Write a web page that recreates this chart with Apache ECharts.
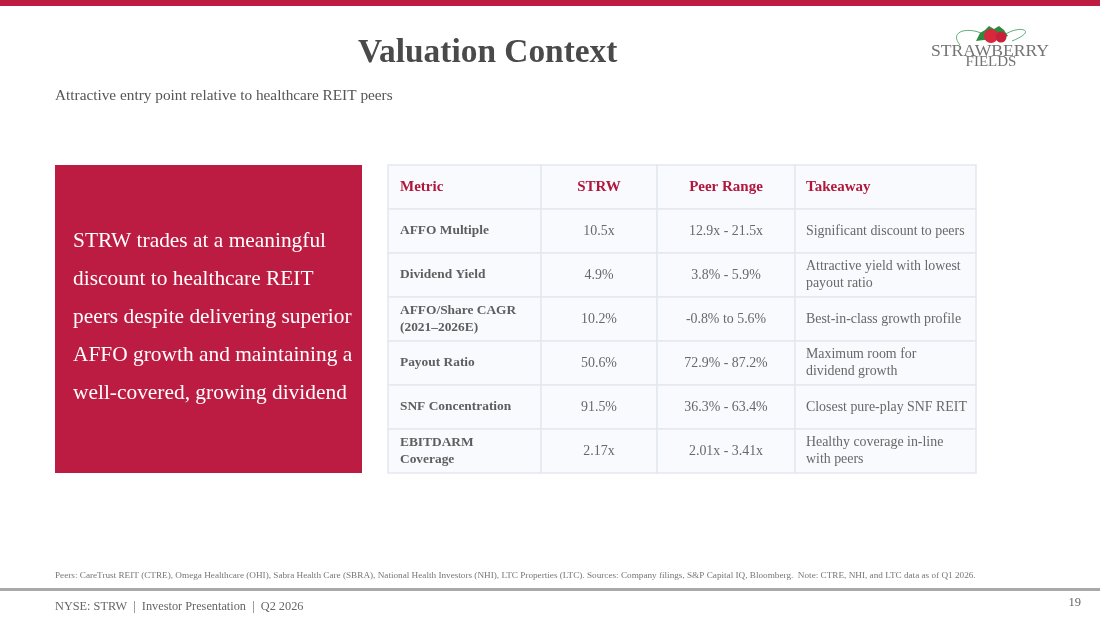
<!DOCTYPE html>
<html>
<head>
<meta charset="utf-8">
<script src="https://cdn.jsdelivr.net/npm/echarts@6/dist/echarts.min.js"></script>
<style>
html,body{margin:0;padding:0;background:#fff;}
#main{width:1100px;height:619px;}
</style>
</head>
<body>
<div id="main"></div>
<script>
// ---- Data ----
const columns = ['Metric', 'STRW', 'Peer Range', 'Takeaway'];
const metrics = ['AFFO Multiple', 'Dividend Yield', 'AFFO/Share CAGR\n(2021\u20132026E)', 'Payout Ratio', 'SNF Concentration', 'EBITDARM\nCoverage'];
const strwValues = ['10.5x', '4.9%', '10.2%', '50.6%', '91.5%', '2.17x'];
const peerRanges = ['12.9x - 21.5x', '3.8% - 5.9%', '-0.8% to 5.6%', '72.9% - 87.2%', '36.3% - 63.4%', '2.01x - 3.41x'];
const takeaways = ['Significant discount to peers', 'Attractive yield with lowest\npayout ratio', 'Best-in-class growth profile', 'Maximum room for\ndividend growth', 'Closest pure-play SNF REIT', 'Healthy coverage in-line\nwith peers'];
const titleText = 'Valuation Context';
const subtitleText = 'Attractive entry point relative to healthcare REIT peers';
const calloutText = 'STRW trades at a meaningful\ndiscount to healthcare REIT\npeers despite delivering superior\nAFFO growth and maintaining a\nwell-covered, growing dividend';
const footnoteText = 'Peers: CareTrust REIT (CTRE), Omega Healthcare (OHI), Sabra Health Care (SBRA), National Health Investors (NHI), LTC Properties (LTC). Sources: Company filings, S&P Capital IQ, Bloomberg.  Note: CTRE, NHI, and LTC data as of Q1 2026.';
const footerText = 'NYSE: STRW  |  Investor Presentation  |  Q2 2026';
const pageNumber = '19';
const logoLines = ['STRAWBERRY', 'FIELDS'];

// ---- Build table cells ----
const rowLabels = ['header'].concat(metrics.map((m, i) => 'r' + i));
const bodyCols = [metrics, strwValues, peerRanges, takeaways];
const cellTexts = [];
const cellData = [];
for (let r = 0; r <= metrics.length; r++) {
  for (let c = 0; c < columns.length; c++) {
    cellTexts.push(r === 0 ? columns[c] : bodyCols[c][r - 1]);
    cellData.push([c, r]);
  }
}

// layout (column edges in table units)
const colEdges = [0, 153, 269, 407, 588];
const SERIF = '"Liberation Serif", "Times New Roman", serif';
const CRIMSON = '#BC1C42';

const chart = echarts.init(document.getElementById('main'), null, {renderer: 'canvas'});

function renderCell(params, api) {
  const c = api.value(0), r = api.value(1);
  const p0 = api.coord([colEdges[c], r]);
  const p1 = api.coord([colEdges[c + 1], r]);
  const h = api.size([0, 1])[1];
  const x = p0[0], w = p1[0] - p0[0], y = p0[1] - h / 2;
  const txt = cellTexts[params.dataIndex];
  const isHeader = r === 0;
  const center = (c === 1 || c === 2);
  let font, color;
  if (isHeader) { font = 'bold 15px ' + SERIF; color = '#B0173D'; }
  else if (c === 0) { font = 'bold 13.4px ' + SERIF; color = '#5E5E5E'; }
  else { font = '13.9px ' + SERIF; color = '#686868'; }
  return {
    type: 'group',
    children: [
      {type: 'rect', shape: {x: x, y: y, width: w, height: h},
       style: {fill: '#F8FAFD', stroke: '#E3E8EF', lineWidth: 1.5}},
      {type: 'text',
       style: {text: txt, x: center ? x + w / 2 : x + (c === 0 ? 12 : 11), y: y + h / 2,
               align: center ? 'center' : 'left', verticalAlign: 'middle',
               font: font, fill: color, lineHeight: 16.5}}
    ]
  };
}

const option = {
  backgroundColor: '#ffffff',
  animation: false,
  title: [
    {text: titleText, left: 358, top: 37, padding: 0,
     textStyle: {fontFamily: SERIF, fontSize: 33.4, fontWeight: 'bold', color: '#4A4A4A'}},
    {text: subtitleText, left: 55, top: 88, padding: 0,
     textStyle: {fontFamily: SERIF, fontSize: 15.3, fontWeight: 'normal', color: '#555555'}},
    {text: footnoteText, left: 55, top: 571, padding: 0,
     textStyle: {fontFamily: SERIF, fontSize: 9.2, fontWeight: 'normal', color: '#777777'}},
    {text: footerText, left: 55, top: 601, padding: 0,
     textStyle: {fontFamily: SERIF, fontSize: 12.3, fontWeight: 'normal', color: '#666666'}},
    {text: pageNumber, right: 19, top: 596, padding: 0,
     textStyle: {fontFamily: SERIF, fontSize: 12.5, fontWeight: 'normal', color: '#666666'}}
  ],
  grid: {left: 388, top: 165, width: 588, height: 308, containLabel: false},
  xAxis: {type: 'value', min: 0, max: 588, show: false},
  yAxis: {type: 'category', data: rowLabels, inverse: true, show: false, boundaryGap: true},
  series: [{
    type: 'custom',
    renderItem: renderCell,
    data: cellData,
    clip: false,
    encode: {x: 0, y: 1}
  }],
  graphic: [
    {type: 'rect', shape: {x: 0, y: 0, width: 1100, height: 6}, style: {fill: '#BE1D42'}},
    {type: 'rect', shape: {x: 0, y: 588, width: 1100, height: 3}, style: {fill: '#A9A9A9'}},
    {type: 'rect', shape: {x: 55, y: 165, width: 307, height: 308}, style: {fill: CRIMSON}},
    {type: 'text', x: 73, y: 317,
     style: {text: calloutText, font: '21.4px ' + SERIF, fill: '#ffffff', lineHeight: 38,
             align: 'left', verticalAlign: 'middle'}},
    // logo
    {type: 'bezierCurve', shape: {x1: 960, y1: 45, x2: 983, y2: 34, cpx1: 948, cpy1: 30, cpx2: 970, cpy2: 27},
     style: {stroke: '#4FA36C', lineWidth: 0.9, fill: null}},
    {type: 'bezierCurve', shape: {x1: 1003, y1: 36, x2: 1012, y2: 41, cpx1: 1018, cpy1: 24, cpx2: 1040, cpy2: 30},
     style: {stroke: '#4FA36C', lineWidth: 0.9, fill: null}},
    {type: 'polygon', shape: {points: [[976, 41], [980, 33], [985, 30], [989, 26], [994, 29], [999, 26], [1004, 30], [1008, 36], [1002, 38], [984, 40]]},
     style: {fill: '#2E8B3E'}},
    {type: 'circle', shape: {cx: 991, cy: 36, r: 7}, style: {fill: '#D8283E'}},
    {type: 'circle', shape: {cx: 1001, cy: 37, r: 5.5}, style: {fill: '#C8203A'}},
    {type: 'text', x: 990, y: 51,
     style: {text: logoLines[0], font: '17.6px ' + SERIF, fill: '#737373', align: 'center', verticalAlign: 'middle'}},
    {type: 'text', x: 991, y: 62,
     style: {text: logoLines[1], font: '15px ' + SERIF, fill: '#737373', align: 'center', verticalAlign: 'middle'}}
  ]
};
chart.setOption(option);
</script>
</body>
</html>
